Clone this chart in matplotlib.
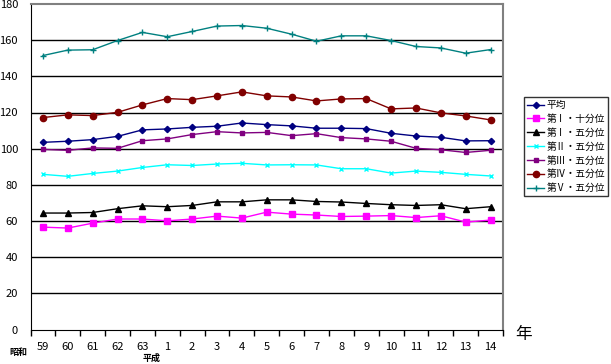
import numpy as np
import matplotlib
matplotlib.use('Agg')
import matplotlib.pyplot as plt

plt.rcParams['font.family'] = ['Noto Sans CJK JP', 'DejaVu Sans']

years = ['59', '60', '61', '62', '63', '1', '2', '3', '4', '5', '6', '7',
         '8', '9', '10', '11', '12', '13', '14']

avg = [103.5, 104.1, 105.0, 106.8, 110.4, 110.9, 111.8, 112.4, 114.2, 113.3,
       112.6, 111.3, 111.3, 111.1, 108.5, 107.0, 106.3, 104.3, 104.4]
dec1 = [56.6, 56.1, 58.8, 61.1, 61.1, 60.1, 61.1, 62.7, 61.6, 64.9,
        63.8, 63.3, 62.5, 62.7, 63.0, 61.9, 62.9, 59.4, 60.5]
q1 = [64.4, 64.4, 64.7, 66.8, 68.4, 67.9, 68.6, 70.6, 70.6, 71.7,
      71.7, 70.8, 70.5, 69.7, 69.0, 68.6, 69.0, 66.8, 67.9]
q2 = [85.8, 84.7, 86.3, 87.6, 89.6, 91.1, 90.7, 91.5, 91.9, 91.0,
      91.1, 91.0, 88.9, 88.9, 86.5, 87.6, 86.9, 85.8, 84.9]
q3 = [99.6, 99.1, 100.4, 100.2, 104.4, 105.4, 107.8, 109.4, 108.7, 109.0,
      107.2, 108.3, 106.1, 105.4, 104.1, 100.2, 99.4, 97.9, 99.1]
q4 = [117.2, 118.7, 118.3, 120.1, 124.2, 127.7, 127.1, 129.2, 131.4, 129.2,
      128.6, 126.4, 127.5, 127.7, 122.0, 122.5, 119.8, 118.1, 115.9]
q5 = [151.5, 154.5, 154.7, 159.8, 164.3, 161.9, 164.8, 167.8, 168.1, 166.6,
      163.3, 159.4, 162.4, 162.4, 159.8, 156.5, 155.7, 152.8, 154.8]

labels = ['平均', '第Ⅰ・十分位', '第Ⅰ・五分位', '第Ⅱ・五分位',
          '第Ⅲ・五分位', '第Ⅳ・五分位', '第Ⅴ・五分位']
colors = ['#000080', '#FF00FF', '#000000', '#00FFFF', '#800080', '#800000', '#008080']
markers = ['D', 's', '^', 'x', 's', 'o', '+']
msizes = [3.2, 4.2, 4.2, 3.5, 3.0, 4.5, 5]

W, H = 611, 364
fig = plt.figure(figsize=(W / 100, H / 100), dpi=100)
ax = fig.add_axes([30.5 / W, 1 - 329.5 / H, (503 - 30.5) / W, (329.5 - 4) / H])

x = np.arange(len(years))
series = [avg, dec1, q1, q2, q3, q4, q5]
for s, lab, c, m, ms in zip(series, labels, colors, markers, msizes):
    ax.plot(x, s, color=c, marker=m, markersize=ms, linewidth=1.0, label=lab,
            markeredgewidth=1.0)

ax.set_xlim(-0.5, len(years) - 0.5)
ax.set_ylim(0, 180)
ax.set_yticks(np.arange(0, 181, 20))
for v in range(20, 180, 20):
    ax.axhline(v, color='black', linewidth=1, zorder=0)

ax.set_xticks(np.arange(-0.5, len(years), 1))
ax.set_xticklabels([])
ax.set_xticks(x, minor=True)
ax.set_xticklabels(years, minor=True)
ax.tick_params(axis='x', which='major', direction='out', length=4, width=1)
ax.tick_params(axis='x', which='minor', length=0, pad=9, labelsize=8)
ax.tick_params(axis='y', length=0, pad=9, labelsize=8)

ax.spines['left'].set_color('black')
ax.spines['bottom'].set_color('black')
ax.spines['top'].set_color('#808080')
ax.spines['right'].set_color('#808080')
ax.spines['top'].set_linewidth(1.5)
ax.spines['right'].set_linewidth(1.5)

leg = ax.legend(loc='upper left', bbox_to_anchor=(524 / W, 1 - 97 / H),
                bbox_transform=fig.transFigure, fontsize=7, frameon=True,
                fancybox=False, edgecolor='black', handlelength=1.8,
                handletextpad=0.2, borderpad=0.3, labelspacing=0.4,
                borderaxespad=0)
leg.get_frame().set_linewidth(1)

fig.text(18 / W, 1 - 353 / H, '昭和', fontsize=6.5, ha='center', va='center',
         fontweight='bold')
fig.text(152 / W, 1 - 358 / H, '平成', fontsize=6.5, ha='center', va='center',
         fontweight='bold')
fig.text(524 / W, 1 - 335 / H, '年', fontsize=12, ha='center', va='center')

fig.savefig('out.png', dpi=100, facecolor='white')
